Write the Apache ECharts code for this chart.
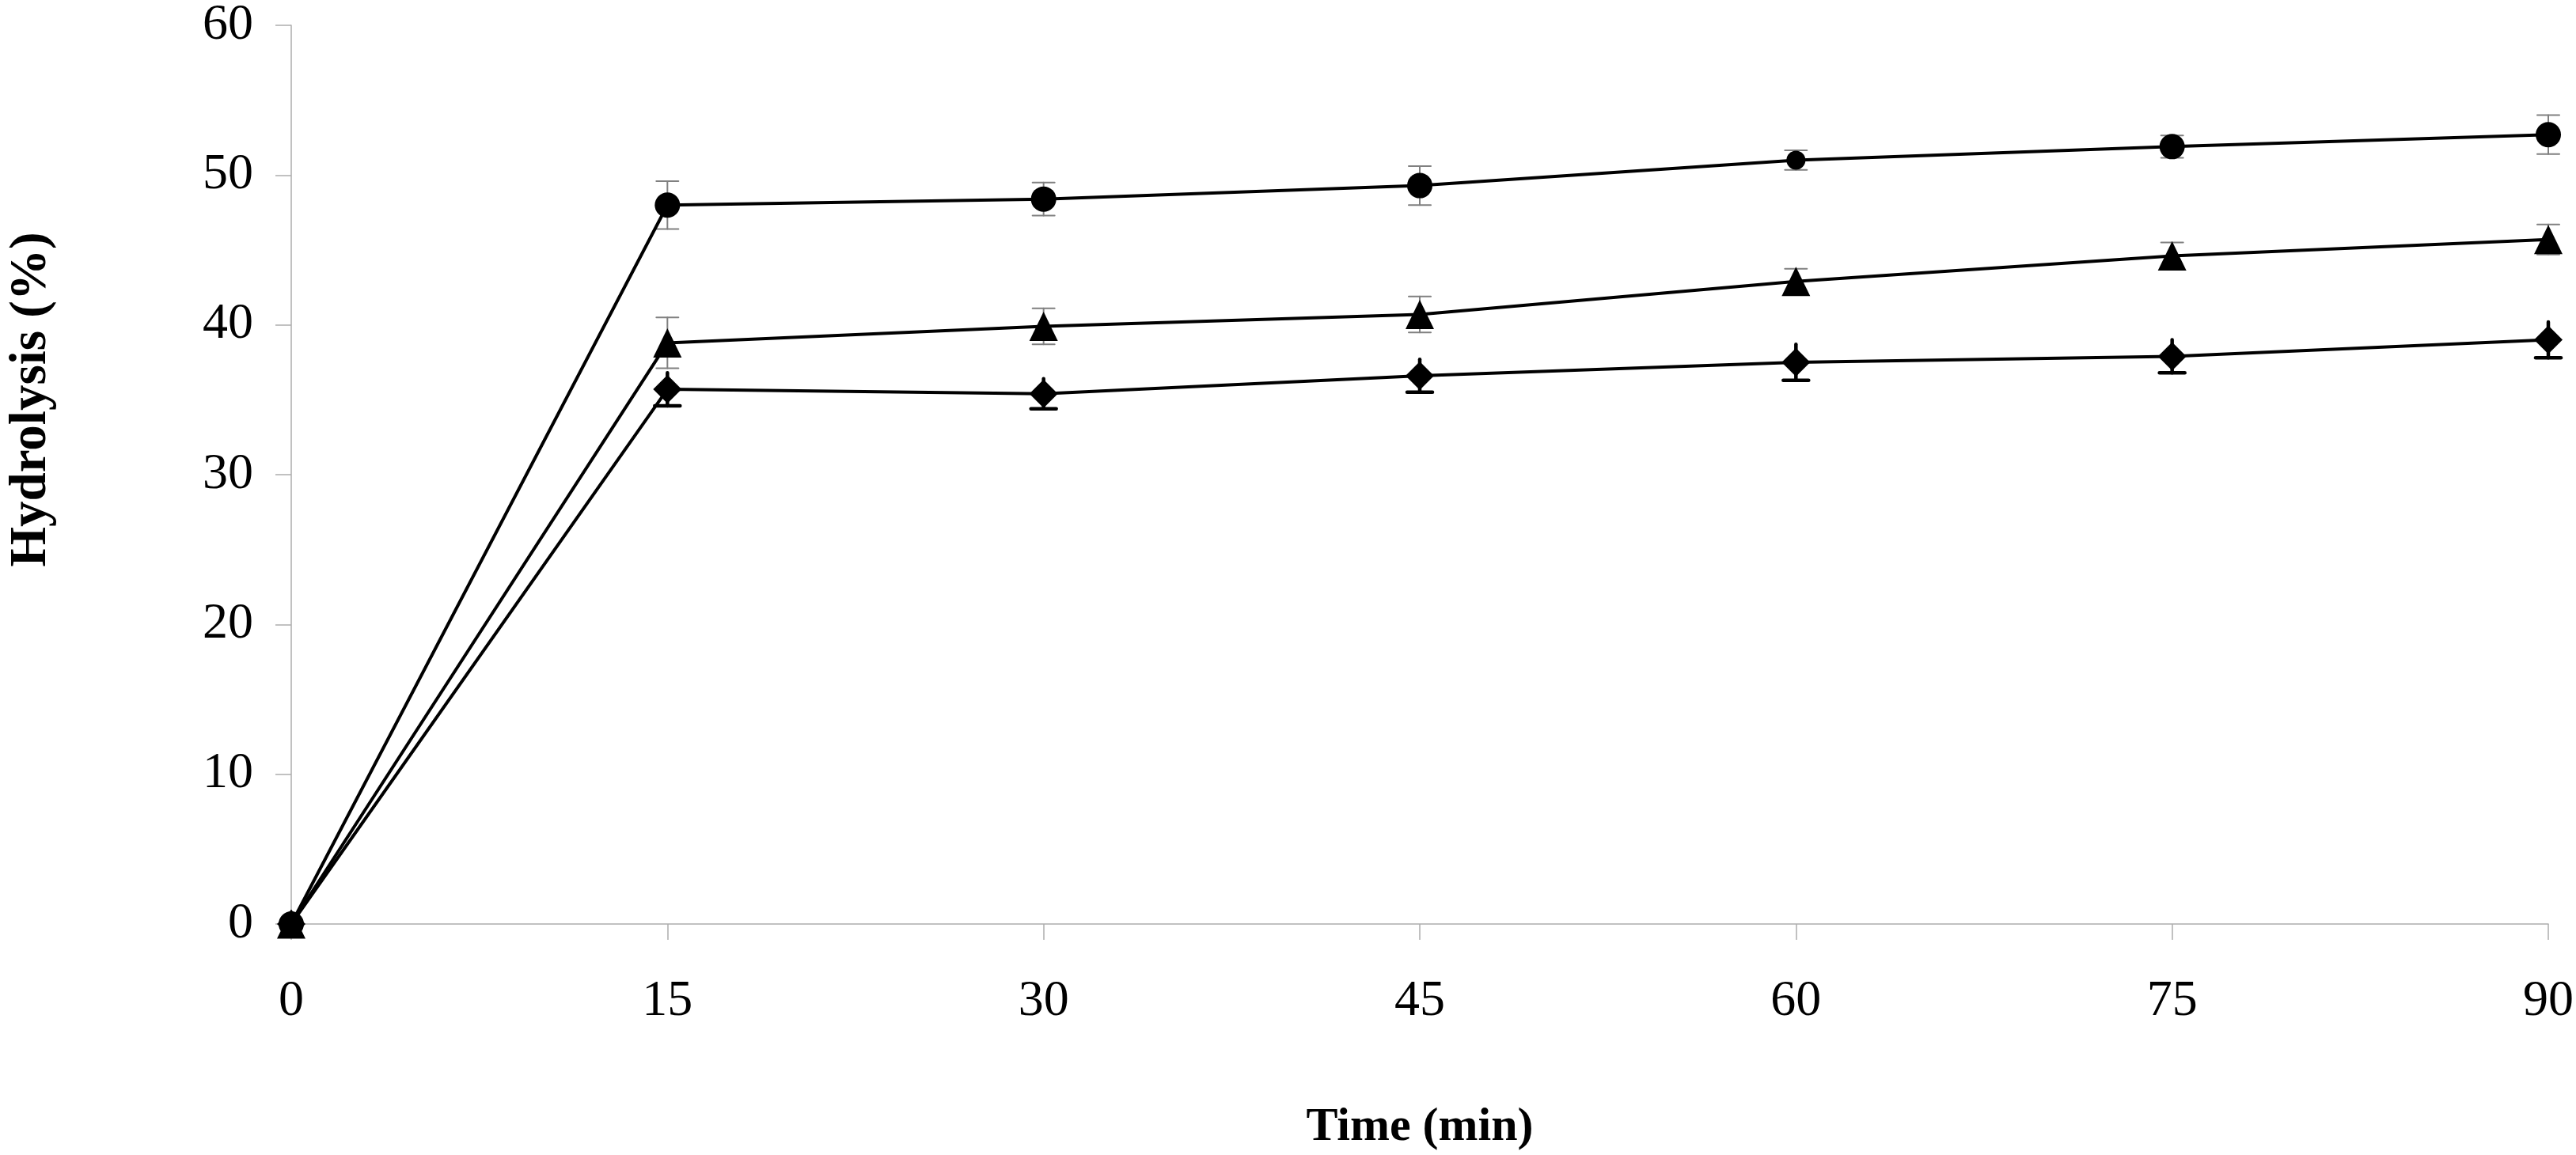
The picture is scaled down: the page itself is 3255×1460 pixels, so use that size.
<!DOCTYPE html>
<html>
<head>
<meta charset="utf-8">
<script src="https://cdn.jsdelivr.net/npm/echarts@6/dist/echarts.min.js"></script>
<style>
html,body{margin:0;padding:0;background:#fff;}
#chart{width:3255px;height:1460px;}
</style>
</head>
<body>
<div id="chart"></div>
<script>
// ---- data ----
const times = [0, 15, 30, 45, 60, 75, 90];
const xTicks = [0, 15, 30, 45, 60, 75, 90];
const yTicks = [0, 10, 20, 30, 40, 50, 60];
const circleVals = [0, 48.0, 48.4, 49.3, 51.0, 51.9, 52.7];
const circleErr  = [0, 1.6, 1.1, 1.3, 0.65, 0.75, 1.3];
const triangleVals = [0, 38.8, 39.9, 40.7, 42.9, 44.6, 45.7];
const triangleErr  = [0, 1.7, 1.2, 1.2, 0.85, 0.9, 1.0];
const diamondVals = [0, 35.7, 35.4, 36.6, 37.5, 37.9, 39.0];
const diamondErr  = [0, 1.1, 1.0, 1.1, 1.2, 1.1, 1.2];

const FONT = '"Liberation Serif", "Times New Roman", serif';

function pts(vals) { return times.map((t, i) => [t, vals[i]]); }
function errData(vals, errs) { return times.map((t, i) => [t, vals[i] - errs[i], vals[i] + errs[i]]); }

function errRender(color, width, capW, topCap) {
  return function (params, api) {
    const x = api.value(0);
    const lo = api.coord([x, api.value(1)]);
    const hi = api.coord([x, api.value(2)]);
    if (Math.abs(lo[1] - hi[1]) < 0.5) return null;
    const style = { stroke: color, lineWidth: width, lineCap: 'round' };
    const children = [
      { type: 'line', shape: { x1: lo[0], y1: lo[1], x2: hi[0], y2: hi[1] }, style: style },
      { type: 'line', shape: { x1: lo[0] - capW / 2, y1: lo[1], x2: lo[0] + capW / 2, y2: lo[1] }, style: style }
    ];
    if (topCap) children.push({ type: 'line', shape: { x1: hi[0] - capW / 2, y1: hi[1], x2: hi[0] + capW / 2, y2: hi[1] }, style: style });
    return { type: 'group', children: children };
  };
}

const circleData = pts(circleVals).map((p, i) => i === 4 ? { value: p, symbolSize: 24 } : p);

const chart = echarts.init(document.getElementById('chart'), null, { renderer: 'canvas' });
chart.setOption({
  backgroundColor: '#ffffff',
  animation: false,
  grid: { left: 350, right: 31, top: 23.3, bottom: 290, containLabel: false },
  xAxis: {
    type: 'value', min: 0, max: 90, interval: 15,
    name: 'Time (min)', nameLocation: 'middle', nameGap: 227,
    nameTextStyle: { fontFamily: FONT, fontWeight: 'bold', fontSize: 60, color: '#000' },
    axisLine: { show: true, onZero: false, lineStyle: { color: '#adadad', width: 1.5 } },
    axisTick: { show: true, inside: false, length: 20, lineStyle: { color: '#adadad', width: 1.5 } },
    axisLabel: { margin: 66, fontFamily: FONT, fontSize: 64, color: '#000',
      formatter: v => (xTicks.indexOf(v) >= 0 ? String(v) : '') },
    splitLine: { show: false }
  },
  yAxis: {
    type: 'value', min: 0, max: 60, interval: 10,
    name: 'Hydrolysis (%)', nameLocation: 'middle', nameGap: 295,
    nameTextStyle: { fontFamily: FONT, fontWeight: 'bold', fontSize: 65, color: '#000', padding: [0, 0, 0, 190] },
    axisLine: { show: true, lineStyle: { color: '#adadad', width: 1.5 } },
    axisTick: { show: true, inside: false, length: 20, lineStyle: { color: '#adadad', width: 1.5 } },
    axisLabel: { margin: 48, fontFamily: FONT, fontSize: 64, color: '#000',
      formatter: v => (yTicks.indexOf(v) >= 0 ? String(v) : '') },
    splitLine: { show: false }
  },
  series: [
    { type: 'custom', name: 'err-circle', data: errData(circleVals, circleErr), renderItem: errRender('#808080', 2, 28, true), z: 1, silent: true },
    { type: 'custom', name: 'err-triangle', data: errData(triangleVals, triangleErr), renderItem: errRender('#808080', 2, 28, true), z: 1, silent: true },
    { type: 'custom', name: 'err-diamond', data: errData(diamondVals, diamondErr), renderItem: errRender('#000000', 4.5, 32, false), z: 1, silent: true },
    { type: 'line', name: 'circle', data: circleData, symbol: 'circle', symbolSize: 32,
      itemStyle: { color: '#000' }, lineStyle: { color: '#000', width: 4 }, z: 3, showAllSymbol: true },
    { type: 'line', name: 'triangle', data: pts(triangleVals), symbol: 'triangle', symbolSize: [36, 37],
      itemStyle: { color: '#000' }, lineStyle: { color: '#000', width: 4 }, z: 3, showAllSymbol: true },
    { type: 'line', name: 'diamond', data: pts(diamondVals), symbol: 'diamond', symbolSize: [36, 36],
      itemStyle: { color: '#000' }, lineStyle: { color: '#000', width: 4 }, z: 3, showAllSymbol: true }
  ]
});
</script>
</body>
</html>
